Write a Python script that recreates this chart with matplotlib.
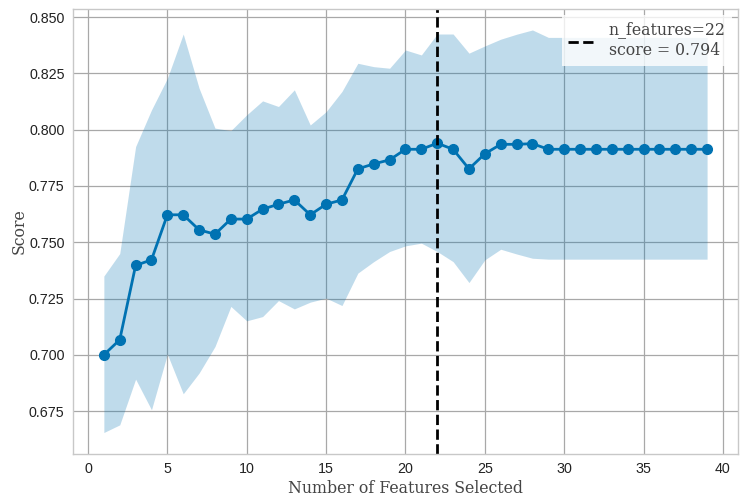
import matplotlib
matplotlib.use("Agg")
import matplotlib.pyplot as plt
from matplotlib.ticker import MultipleLocator, FormatStrFormatter
import numpy as np

n_features = list(range(1, 40))
mean_score = [0.700, 0.7067, 0.7397, 0.7422, 0.7622, 0.7622, 0.7555, 0.7536, 0.7603, 0.7603,
              0.7647, 0.7669, 0.7688, 0.7622, 0.7669, 0.7688, 0.7826, 0.7848, 0.7866, 0.7913,
              0.7913, 0.7940, 0.7913, 0.7826, 0.7893, 0.7935, 0.7935, 0.7938, 0.7913, 0.7913,
              0.7913, 0.7913, 0.7913, 0.7913, 0.7913, 0.7913, 0.7913, 0.7913, 0.7913]
upper = [0.735, 0.745, 0.7925, 0.8088, 0.8228, 0.8425, 0.8184, 0.8007, 0.7996, 0.8066,
         0.8128, 0.8103, 0.8177, 0.8021, 0.8080, 0.8170, 0.8295, 0.8280, 0.8273, 0.8354,
         0.8332, 0.8425, 0.8425, 0.8340, 0.8372, 0.8402, 0.8424, 0.8443, 0.8410, 0.8410,
         0.8410, 0.8410, 0.8410, 0.8410, 0.8410, 0.8410, 0.8410, 0.8410, 0.8410]
lower = [0.6655, 0.6689, 0.6892, 0.6756, 0.7003, 0.6827, 0.6919, 0.7037, 0.7215, 0.7151,
         0.7170, 0.7241, 0.7204, 0.7234, 0.7252, 0.7219, 0.7363, 0.7414, 0.7459, 0.7484,
         0.7496, 0.7459, 0.7414, 0.7321, 0.7422, 0.7469, 0.7448, 0.7429, 0.7425, 0.7425,
         0.7425, 0.7425, 0.7425, 0.7425, 0.7425, 0.7425, 0.7425, 0.7425, 0.7425]
best_n = 22
best_score = 0.794

color = "#0072B2"
label_font = "DejaVu Serif"

fig = plt.figure(figsize=(7.44, 5.01), dpi=100)
ax = fig.add_axes([0.098, 0.094, 0.894, 0.888])

ax.fill_between(n_features, lower, upper, color=color, alpha=0.25, linewidth=0)
ax.plot(n_features, mean_score, color=color, marker="o", markersize=7, linewidth=2)
ax.axvline(best_n, color="black", linestyle="--", linewidth=2,
           label="n_features=%d\nscore = %.3f" % (best_n, best_score))

ax.set_xlim(-0.95, 40.95)
ax.set_ylim(0.656, 0.8536)
ax.xaxis.set_major_locator(MultipleLocator(5))
ax.yaxis.set_major_locator(MultipleLocator(0.025))
ax.yaxis.set_major_formatter(FormatStrFormatter("%.3f"))
ax.grid(True, color="#a8a8a8", linewidth=0.9)
ax.set_axisbelow(True)
for s in ax.spines.values():
    s.set_color("#c8c8c8")
    s.set_linewidth(1.0)
ax.tick_params(length=0, labelsize=10.3, pad=6)
for lab in ax.get_xticklabels() + ax.get_yticklabels():
    lab.set_family("Liberation Sans")
    lab.set_color("#222222")

ax.set_xlabel("Number of Features Selected", family=label_font, fontsize=11.3, color="#444444", labelpad=2.5)
ax.set_ylabel("Score", family=label_font, fontsize=11.3, color="#444444", labelpad=1)

leg = ax.legend(loc="upper right", prop={"family": label_font, "size": 11.3},
                frameon=True, fancybox=False, framealpha=0.8, edgecolor="none",
                handlelength=1.8, borderaxespad=0.4)
for t in leg.get_texts():
    t.set_color("#444444")
    t.set_linespacing(1.3)

fig.savefig("out.png", dpi=100)
